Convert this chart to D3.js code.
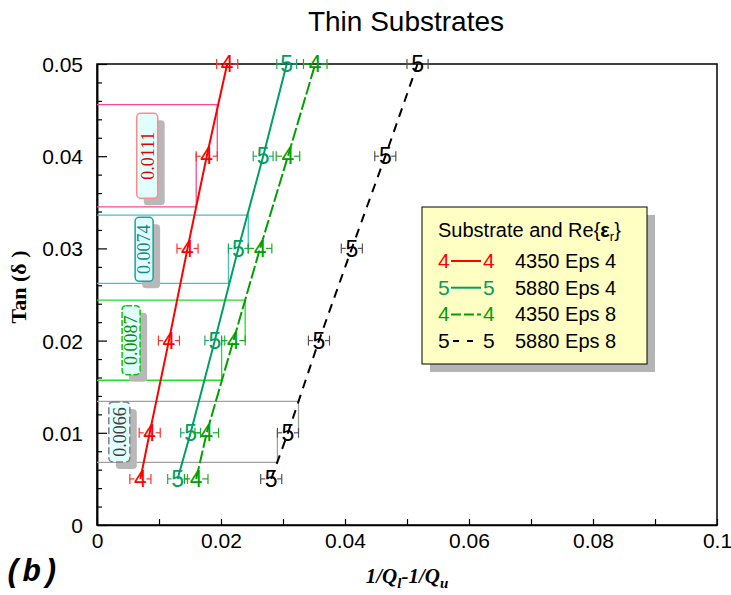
<!DOCTYPE html>
<html><head><meta charset="utf-8">
<script src="https://cdn.jsdelivr.net/npm/d3@7"></script>
<style>body{margin:0;background:#fff}svg{display:block}</style>
</head><body><svg id="c" width="731" height="595"></svg>
<script>
// ---------- data ----------
const tanValues = [0.005, 0.01, 0.02, 0.03, 0.04, 0.05];
const seriesNames = ["4350 Eps 4", "5880 Eps 4", "4350 Eps 8", "5880 Eps 8"];
const seriesGlyphs = ["4", "5", "4", "5"];
const s4350e4 = [0.0070, 0.0085, 0.0116, 0.0146, 0.0177, 0.0210];
const s5880e4 = [0.0130, 0.0151, 0.0190, 0.0228, 0.0268, 0.0306];
const s4350e8 = [0.0160, 0.0177, 0.0220, 0.0263, 0.0308, 0.0352];
const s5880e8 = [0.0281, 0.0308, 0.0358, 0.0411, 0.0465, 0.0517];
const xErrors = [0.0017, 0.0016, 0.0019, 0.0017];
const annSeries = [0, 1, 2, 3];
const annTan = [0.04, 0.03, 0.02, 0.01];
const annLow = [0.0345, 0.0262, 0.0157, 0.0068];
const annHigh = [0.0456, 0.0336, 0.0244, 0.0134];
const annLabels = ["0.0111", "0.0074", "0.0087", "0.0066"];
const annLabelX = [0.0081, 0.0076, 0.0055, 0.0036];
const xTickValues = [0, 0.01, 0.02, 0.03, 0.04, 0.05, 0.06, 0.07, 0.08, 0.09, 0.1];
const xTickLabels = ["0", "", "0.02", "", "0.04", "", "0.06", "", "0.08", "", "0.1"];
const yMajorTicks = [0, 0.01, 0.02, 0.03, 0.04, 0.05];
const yTickLabels = ["0", "0.01", "0.02", "0.03", "0.04", "0.05"];
const yMinorTicks = [0.002,0.004,0.006,0.008,0.012,0.014,0.016,0.018,0.022,0.024,0.026,0.028,0.032,0.034,0.036,0.038,0.042,0.044,0.046,0.048];
const seriesX = [s4350e4, s5880e4, s4350e8, s5880e8];

// ---------- styles ----------
const colors = ["#ff0000", "#00a060", "#00a000", "#000000"];
const errColors = ["#ff3030", "#20a868", "#20a820", "#555555"];
const dashes = [null, null, "13,3", "9,7"];
const legendDashes = [null, null, "10,3", "6,8"];
const annColors = ["#ff4a90", "#40c4c4", "#22e022", "#a0a0a0"];
const labelBorder = ["#ff8a8a", "#20a0a0", "#00d000", "#808080"];
const labelBorderDash = [null, null, "6,2", "7,3"];
const labelTextColor = ["#e00000", "#118888", "#009000", "#404040"];
const labelBoxH = [85, 64, 69, 60];
const labelBoxW = [21, 18, 18, 21];
const SANS = "'Liberation Sans', Arial, sans-serif";
const SERIF = "'Liberation Serif', 'Times New Roman', serif";

const svg = d3.select("#c");
const L = 97, R = 717, T = 64, B = 525;
const x = d3.scaleLinear().domain([0, 0.1]).range([L, R]);
const y = d3.scaleLinear().domain([0, 0.05]).range([B, T]);

// title
svg.append("text").attr("x", 406).attr("y", 31).attr("text-anchor", "middle")
  .attr("font-family", SANS).attr("font-size", 28).text("Thin Substrates");

// frame
svg.append("rect").attr("x", L).attr("y", T).attr("width", R - L).attr("height", B - T)
  .attr("fill", "none").attr("stroke", "#000").attr("stroke-width", 1.5);

// axes
const yMinor = svg.append("g").attr("transform", `translate(${L},0)`)
  .call(d3.axisLeft(y).tickValues(yMinorTicks).tickSizeInner(-5).tickSizeOuter(0).tickFormat(""));
const yMajor = svg.append("g").attr("transform", `translate(${L},0)`)
  .call(d3.axisLeft(y).tickValues(yMajorTicks).tickSizeInner(-10).tickSizeOuter(0).tickPadding(14)
    .tickFormat((d, i) => yTickLabels[i]));
const xAx = svg.append("g").attr("transform", `translate(0,${B})`)
  .call(d3.axisBottom(x).tickValues(xTickValues).tickSizeInner(-6).tickSizeOuter(0).tickPadding(8)
    .tickFormat((d, i) => xTickLabels[i]));
[yMinor, yMajor, xAx].forEach(g => {
  g.select(".domain").attr("stroke", "#000").attr("stroke-width", 1.5);
  g.selectAll(".tick line").attr("stroke", "#000").attr("stroke-width", 1.2);
  g.selectAll("text").attr("font-family", SANS).attr("font-size", 21).attr("fill", "#000");
});
yMajor.selectAll(".tick text").attr("dy", "0.36em");

// axis labels
const yl = svg.append("text").attr("transform", "translate(26,287) rotate(-90)")
  .attr("text-anchor", "middle").attr("font-family", SERIF).attr("font-weight", "bold").attr("font-size", 22);
yl.append("tspan").text("Tan (");
yl.append("tspan").text("δ");
yl.append("tspan").text(" )");

const xl = svg.append("text").attr("x", 407).attr("y", 583).attr("text-anchor", "middle")
  .attr("font-family", SERIF).attr("font-weight", "bold").attr("font-style", "italic").attr("font-size", 21);
xl.append("tspan").text("1/Q");
xl.append("tspan").attr("font-size", 15).attr("dy", 5).text("l");
xl.append("tspan").attr("dy", -5).text("-1/Q");
xl.append("tspan").attr("font-size", 15).attr("dy", 5).text("u");

svg.append("text").attr("x", 4).attr("y", 581).attr("font-family", "'Liberation Mono', 'Courier New', monospace")
  .attr("font-weight", "bold").attr("font-style", "italic").attr("font-size", 31).text("(b)");

// annotation boxes (behind)
annSeries.forEach((s, k) => {
  const idx = tanValues.indexOf(annTan[k]);
  const px = seriesX[s][idx], e = xErrors[s];
  const g = svg.append("g").attr("fill", "none").attr("stroke", annColors[k]).attr("stroke-width", 1.3);
  g.append("path").attr("d", `M${x(0)},${y(annHigh[k])}H${x(px + e)}V${y(annTan[k])}`);
  g.append("path").attr("d", `M${x(0)},${y(annLow[k])}H${x(px - e)}V${y(annTan[k]) - 3}`);
});

// series lines
seriesX.forEach((xs, s) => {
  const line = d3.line().x((d, i) => x(d)).y((d, i) => y(tanValues[i]));
  svg.append("path").datum(xs).attr("d", line).attr("fill", "none")
    .attr("stroke", colors[s]).attr("stroke-width", 2)
    .attr("stroke-dasharray", dashes[s]);
});

// markers with error bars
seriesX.forEach((xs, s) => {
  xs.forEach((v, i) => {
    const cx = x(v), cy = y(tanValues[i]);
    const xl0 = x(v - xErrors[s]), xr0 = x(v + xErrors[s]);
    const g = svg.append("g");
    const ec = errColors[s];
    g.append("line").attr("x1", xl0).attr("x2", cx - 6).attr("y1", cy).attr("y2", cy).attr("stroke", ec).attr("stroke-width", 1.2);
    g.append("line").attr("x1", cx + 6).attr("x2", xr0).attr("y1", cy).attr("y2", cy).attr("stroke", ec).attr("stroke-width", 1.2);
    g.append("line").attr("x1", xl0).attr("x2", xl0).attr("y1", cy - 5).attr("y2", cy + 5).attr("stroke", ec).attr("stroke-width", 1.2);
    g.append("line").attr("x1", xr0).attr("x2", xr0).attr("y1", cy - 5).attr("y2", cy + 5).attr("stroke", ec).attr("stroke-width", 1.2);
    g.append("text").attr("x", cx).attr("y", cy).attr("dy", "0.36em").attr("text-anchor", "middle")
      .attr("font-family", SANS).attr("font-size", 23).attr("fill", colors[s]).text(seriesGlyphs[s]);
  });
});

// rotated slope labels
annSeries.forEach((s, k) => {
  const cx = x(annLabelX[k]), cy = y((annLow[k] + annHigh[k]) / 2);
  const w = labelBoxW[k], h = labelBoxH[k];
  svg.append("rect").attr("x", cx - w / 2 + 7).attr("y", cy - h / 2 + 7).attr("width", w).attr("height", h)
    .attr("rx", 4).attr("fill", "#b8b8b8");
  svg.append("rect").attr("x", cx - w / 2).attr("y", cy - h / 2).attr("width", w).attr("height", h)
    .attr("rx", 4).attr("fill", "#e2ffff").attr("stroke", labelBorder[k]).attr("stroke-width", 1.5)
    .attr("stroke-dasharray", labelBorderDash[k]);
  svg.append("text").attr("transform", `translate(${cx},${cy}) rotate(-90)`).attr("dy", "0.35em")
    .attr("text-anchor", "middle").attr("font-family", SERIF).attr("font-size", 18)
    .attr("fill", labelTextColor[k]).text(annLabels[k]);
});

// legend
const lg = svg.append("g").attr("transform", "translate(422,207)");
lg.append("rect").attr("x", 8).attr("y", 8).attr("width", 225).attr("height", 157).attr("fill", "#b4b4b4");
lg.append("rect").attr("width", 225).attr("height", 157).attr("fill", "#ffffc4").attr("stroke", "#000").attr("stroke-width", 1);
const lt = lg.append("text").attr("x", 16).attr("y", 30).attr("font-family", SANS).attr("font-size", 20);
lt.append("tspan").text("Substrate and Re{");
lt.append("tspan").attr("font-weight", "bold").text("ε");
lt.append("tspan").attr("font-size", 13).attr("dy", 4).text("r");
lt.append("tspan").attr("dy", -4).text("}");
seriesNames.forEach((n, s) => {
  const by = 61 + s * 26.7;
  lg.append("text").attr("x", 16).attr("y", by).attr("font-family", SANS).attr("font-size", 21)
    .attr("fill", colors[s]).text(seriesGlyphs[s]);
  lg.append("line").attr("x1", s === 3 ? 31 : 29).attr("x2", 59).attr("y1", by - 7).attr("y2", by - 7)
    .attr("stroke", colors[s]).attr("stroke-width", 2).attr("stroke-dasharray", legendDashes[s]);
  lg.append("text").attr("x", 61).attr("y", by).attr("font-family", SANS).attr("font-size", 21)
    .attr("fill", colors[s]).text(seriesGlyphs[s]);
  lg.append("text").attr("x", 93).attr("y", by).attr("font-family", SANS).attr("font-size", 20)
    .attr("fill", "#000").text(n);
});
</script></body></html>
